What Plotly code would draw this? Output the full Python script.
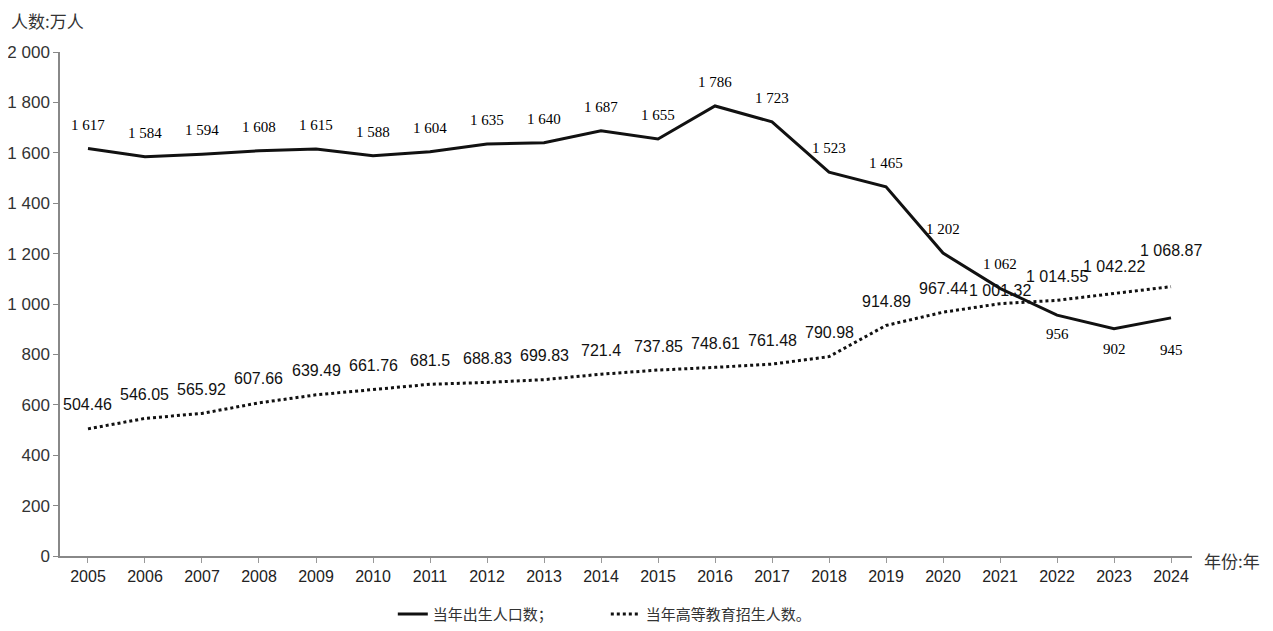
import plotly.graph_objects as go

years = list(range(2005, 2025))
births = [1617, 1584, 1594, 1608, 1615, 1588, 1604, 1635, 1640, 1687,
          1655, 1786, 1723, 1523, 1465, 1202, 1062, 956, 902, 945]
enroll = [504.46, 546.05, 565.92, 607.66, 639.49, 661.76, 681.5, 688.83, 699.83, 721.4,
          737.85, 748.61, 761.48, 790.98, 914.89, 967.44, 1001.32, 1014.55, 1042.22, 1068.87]
y_ticks = [0, 200, 400, 600, 800, 1000, 1200, 1400, 1600, 1800, 2000]

name_birth = "当年出生人口数；"
name_enroll = "当年高等教育招生人数。"


def fmt(v):
    return f"{v:,}".replace(",", " ")


fig = go.Figure()
fig.add_trace(go.Scatter(x=years, y=births, mode="lines", name=name_birth,
                         line=dict(color="#111111", width=3)))
fig.add_trace(go.Scatter(x=years, y=enroll, mode="lines", name=name_enroll,
                         line=dict(color="#111111", width=3, dash="dot")))

# label offsets (pixels) for readability
birth_shift = {2022: -19, 2023: -20, 2024: -32}
enroll_shift = {2021: 13, 2023: 27, 2024: 36}

ann = []
for x, v in zip(years, births):
    ann.append(dict(x=x, y=v, text=fmt(v), showarrow=False,
                    yshift=birth_shift.get(x, 24),
                    font=dict(family="Liberation Serif", size=15, color="#000000")))
for x, v in zip(years, enroll):
    ann.append(dict(x=x, y=v, text=fmt(v), showarrow=False,
                    yshift=enroll_shift.get(x, 24),
                    font=dict(family="Liberation Sans", size=16, color="#111111")))

ann.append(dict(xref="paper", yref="paper", x=-0.045, y=1.063, xanchor="left", yanchor="middle",
                text="人数:万人", showarrow=False,
                font=dict(family="Noto Sans CJK SC", size=17, color="#333333")))
ann.append(dict(xref="paper", yref="paper", x=1.009, y=-0.008, xanchor="left", yanchor="middle",
                text="年份:年", showarrow=False,
                font=dict(family="Noto Sans CJK SC", size=17, color="#333333")))

fig.update_layout(
    width=1273, height=631,
    margin=dict(l=52, r=89, t=44, b=83, autoexpand=False),
    paper_bgcolor="white", plot_bgcolor="white",
    separators=". ",
    showlegend=True,
    legend=dict(orientation="h", x=0.294, xanchor="left", y=-0.083, yanchor="top",
                font=dict(family="Noto Sans CJK SC", size=15, color="#333333"),
                entrywidth=168, entrywidthmode="pixels"),
    annotations=ann,
    xaxis=dict(range=[2004.509, 2024.368], tickmode="array", tickvals=years,
               ticks="outside", ticklen=5, tickcolor="#999999",
               showline=True, linecolor="#888888", linewidth=1.5, showgrid=False,
               zeroline=False,
               tickfont=dict(family="Liberation Sans", size=16, color="#222222")),
    yaxis=dict(range=[0, 2000], tickmode="array", tickvals=y_ticks,
               tickformat=",d", ticks="outside", ticklen=5, tickcolor="#888888",
               showline=True, linecolor="#888888", linewidth=1.5, showgrid=False,
               zeroline=False,
               tickfont=dict(family="Liberation Sans", size=17, color="#333333")),
)

fig.write_html("out.html")
